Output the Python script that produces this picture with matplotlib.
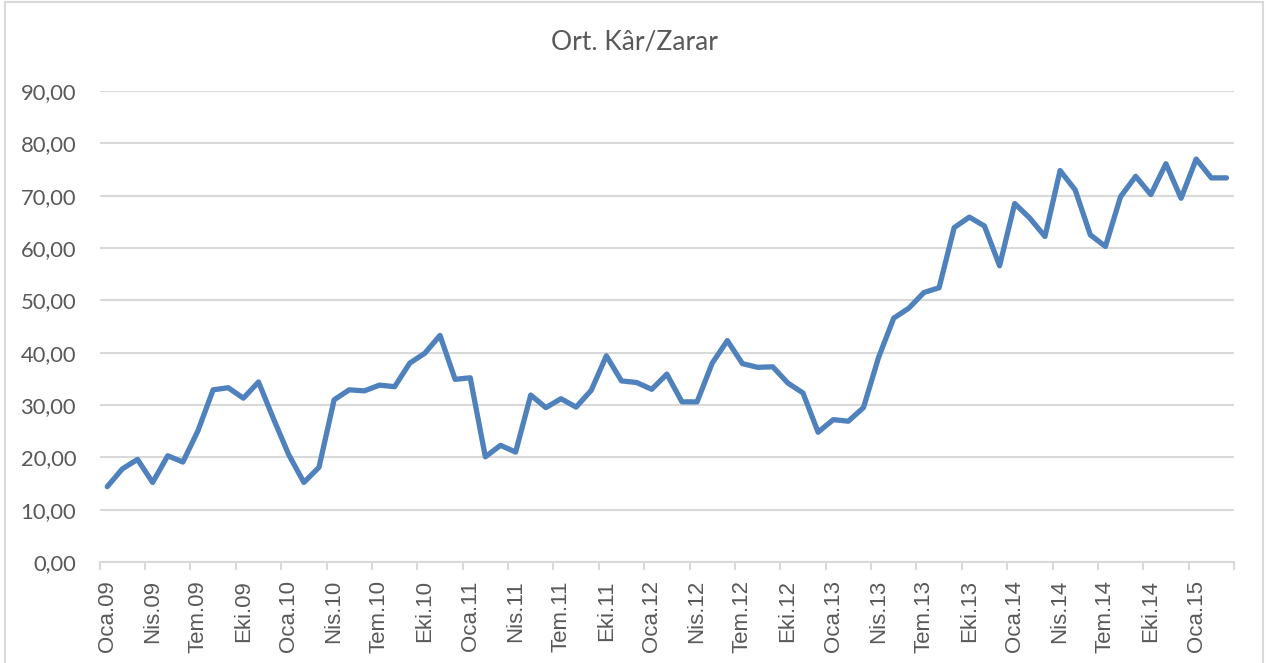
import matplotlib
matplotlib.use("Agg")
import matplotlib.pyplot as plt
from matplotlib.patches import Rectangle
from matplotlib.ticker import FixedLocator, FixedFormatter

title = "Ort. Kâr/Zarar"
months_tr = ["Oca", "Şub", "Mar", "Nis", "May", "Haz", "Tem", "Ağu", "Eyl", "Eki", "Kas", "Ara"]
years = ["09", "10", "11", "12", "13", "14", "15"]

values = [
    14.4, 17.8, 19.6, 15.2, 20.3, 19.1, 25.1, 32.9, 33.3, 31.3, 34.4, 27.3,
    20.5, 15.2, 18.1, 31.0, 32.9, 32.7, 33.8, 33.5, 38.0, 39.9, 43.3, 34.9,
    35.2, 20.1, 22.3, 21.0, 31.9, 29.5, 31.2, 29.6, 32.8, 39.4, 34.6, 34.3,
    33.0, 35.9, 30.6, 30.6, 38.0, 42.3, 37.9, 37.2, 37.3, 34.2, 32.3, 24.8,
    27.2, 26.9, 29.5, 39.1, 46.6, 48.5, 51.5, 52.4, 63.9, 65.9, 64.2, 56.6,
    68.5, 65.7, 62.2, 74.8, 71.1, 62.5, 60.3, 69.8, 73.7, 70.2, 76.1, 69.5,
    77.0, 73.4, 73.4,
]

categories = [f"{m}.{y}" for y in years for m in months_tr][:len(values)]
y_ticks = [0, 10, 20, 30, 40, 50, 60, 70, 80, 90]

W, H = 1270, 663
fig = plt.figure(figsize=(W / 100, H / 100), dpi=100)
fig.patch.set_facecolor("white")

left, right, top, bottom = 99.7, 1234, 91, 562
ax = fig.add_axes([left / W, (H - bottom) / H, (right - left) / W, (bottom - top) / H])

text_color = "#595959"
grid_color = "#d9d9d9"
line_color = "#4f81bd"
ylab_font = ["Lato", "DejaVu Sans"]
xlab_font = ["Liberation Sans", "DejaVu Sans"]

x = list(range(len(values)))
ax.plot(x, values, color=line_color, linewidth=3.8, solid_joinstyle="round",
        solid_capstyle="round", zorder=3)

n = len(values)
ax.set_xlim(-0.5, n - 0.5)
ax.set_ylim(0, 90)

# y axis
ax.set_yticks(y_ticks)
ax.set_yticklabels([f"{v:.2f}".replace(".", ",") for v in y_ticks],
                   fontsize=15.8, color=text_color, family=ylab_font)
ax.tick_params(axis="y", length=0, pad=17)
ax.grid(axis="y", color=grid_color, linewidth=1.5, zorder=0)

# x axis: major ticks at category boundaries, labels at category centers
bounds = [-0.5 + 3 * k for k in range(n // 3 + 1)]
ax.xaxis.set_major_locator(FixedLocator(bounds))
ax.xaxis.set_major_formatter(FixedFormatter([""] * len(bounds)))
label_pos = list(range(0, n, 3))
ax.xaxis.set_minor_locator(FixedLocator(label_pos))
ax.xaxis.set_minor_formatter(FixedFormatter([categories[i] for i in label_pos]))
ax.tick_params(axis="x", which="major", length=6, width=1.5, color=grid_color, direction="out")
ax.tick_params(axis="x", which="minor", length=0, pad=13, labelsize=16,
               labelcolor=text_color, rotation=90)
for lbl in ax.xaxis.get_minorticklabels():
    lbl.set_family(xlab_font)
    lbl.set_verticalalignment("top")

for s in ["left", "right", "top"]:
    ax.spines[s].set_visible(False)
ax.spines["bottom"].set_color(grid_color)
ax.spines["bottom"].set_linewidth(1.5)
ax.spines["bottom"].set_zorder(1)

fig.text(634 / W, 1 - 42 / H, title, ha="center", va="center", fontsize=19,
         color=text_color, family=ylab_font)

fig.patches.append(Rectangle((5 / W, -0.01), (1263 - 5) / W, 1 - 2 / H + 0.01,
                             transform=fig.transFigure, fill=False,
                             edgecolor=grid_color, linewidth=1.5))

fig.savefig("out.png", dpi=100, facecolor="white")
